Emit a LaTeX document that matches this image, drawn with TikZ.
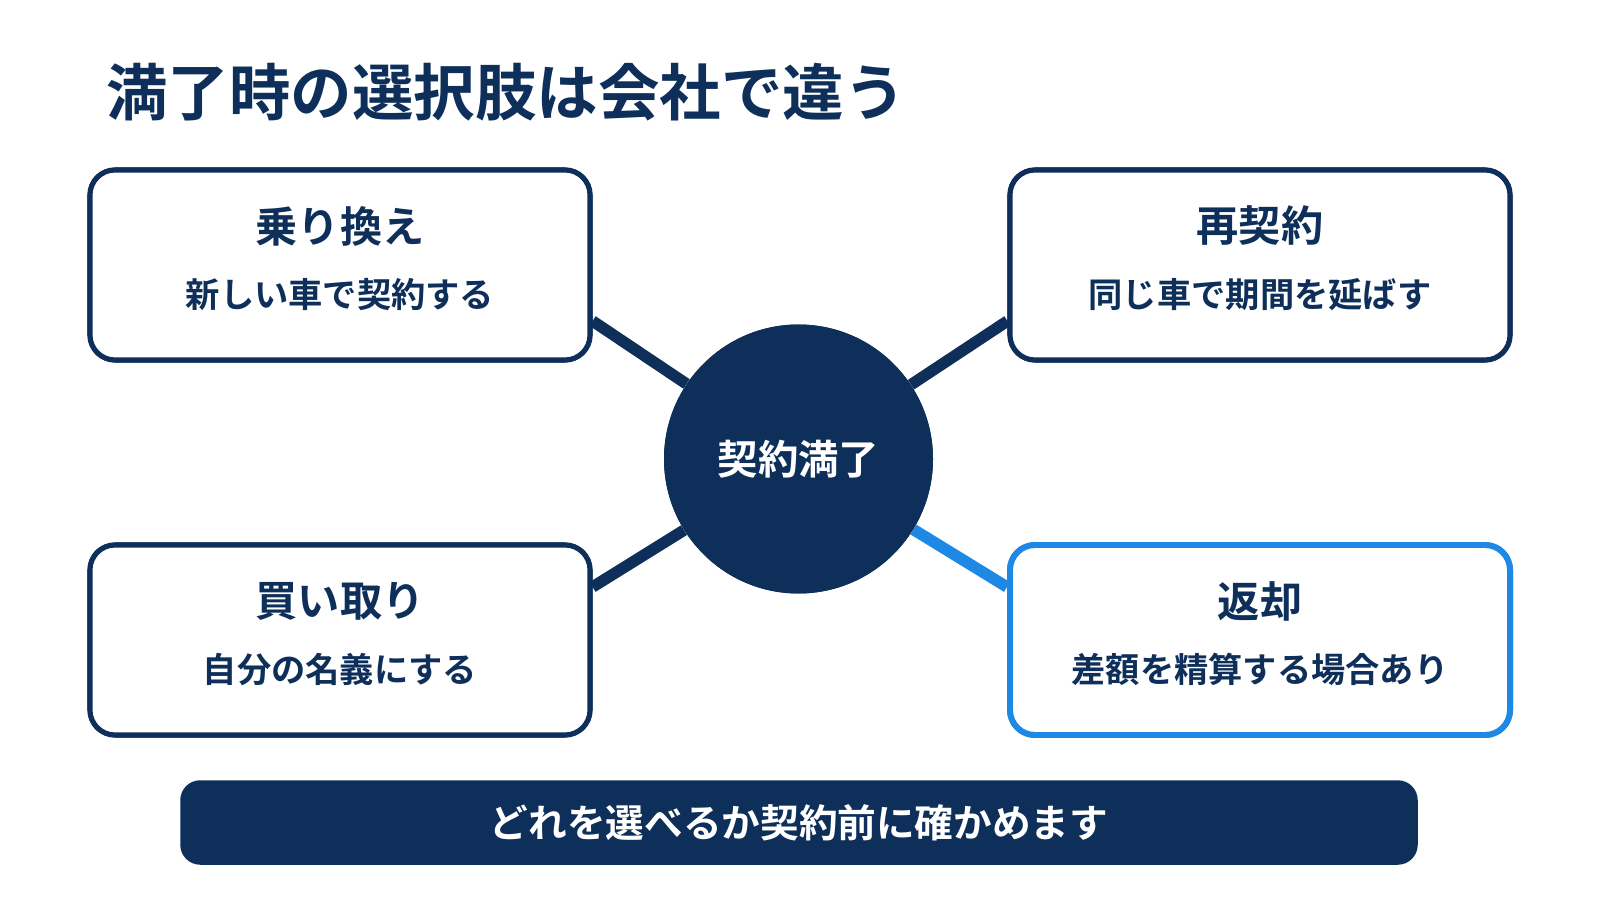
\documentclass[tikz,border=0pt]{standalone}
\usepackage{fontspec}
\setmainfont{Noto Sans CJK JP}[BoldFont={* Bold}]
\usetikzlibrary{positioning}
\definecolor{navy}{HTML}{0D2F5A}
\definecolor{accent}{HTML}{1E88E5}
\newcommand{\boxw}{10cm}
\tikzset{
    optsty/.style={draw=navy,line width=2.9pt,fill=white,rounded corners=0.5cm,minimum width=\boxw,minimum height=3.8cm},
    histy/.style={optsty,draw=accent,line width=3.4pt},
    headsty/.style={text=navy,font=\bfseries\fontsize{24}{28}\selectfont},
    substy/.style={text=navy,font=\bfseries\fontsize{19.5}{23}\selectfont},
    hubsty/.style={circle,fill=navy,minimum size=5.38cm,text=white,font=\bfseries\fontsize{23}{27}\selectfont},
    linksty/.style={draw=navy,line width=6.5pt},
}
\begin{document}
\begin{tikzpicture}
  \useasboundingbox (0,0) rectangle (32,18);
  % title
  \node[anchor=west,text=navy,font=\bfseries\fontsize{35}{40}\selectfont] (title) at (2.0,16.15) {満了時の選択肢は会社で違う};

  % option boxes
  \node[optsty] (tl) at (6.8,12.7) {};
  \node[optsty] (tr) at (25.2,12.7) {};
  \node[optsty] (bl) at (6.8,5.2) {};
  \node[histy]  (br) at (25.2,5.2) {};

  % hub
  \node[hubsty] (hub) at (15.97,8.82) {};

  % links behind
  \draw[linksty] (hub) -- ([yshift=-1.12cm]tl.east);
  \draw[linksty] (hub) -- ([yshift=-1.12cm]tr.west);
  \draw[linksty] (hub) -- ([yshift=1.06cm]bl.east);
  \draw[linksty,draw=accent] (hub) -- ([yshift=1.06cm]br.west);
  % redraw on top
  \node[optsty] at (tl) {};
  \node[optsty] at (tr) {};
  \node[optsty] at (bl) {};
  \node[histy]  at (br) {};
  \node[hubsty] at (hub) {契約満了};

  \node[headsty] (tlh) at ([yshift=0.78cm]tl.center) {乗り換え};
  \node[substy]  (tls) at ([yshift=-0.59cm]tl.center) {新しい車で契約する};
  \node[headsty] (trh) at ([yshift=0.78cm]tr.center) {再契約};
  \node[substy]  (trs) at ([yshift=-0.59cm]tr.center) {同じ車で期間を延ばす};
  \node[headsty] (blh) at ([yshift=0.78cm]bl.center) {買い取り};
  \node[substy]  (bls) at ([yshift=-0.59cm]bl.center) {自分の名義にする};
  \node[headsty] (brh) at ([yshift=0.78cm]br.center) {返却};
  \node[substy]  (brs) at ([yshift=-0.59cm]br.center) {差額を精算する場合あり};

  % bottom note
  \node[fill=navy,rounded corners=0.4cm,minimum width=24.75cm,minimum height=1.69cm,text=white,font=\bfseries\fontsize{22}{26}\selectfont] (note) at (15.98,1.55) {どれを選べるか契約前に確かめます};
\end{tikzpicture}
\end{document}
